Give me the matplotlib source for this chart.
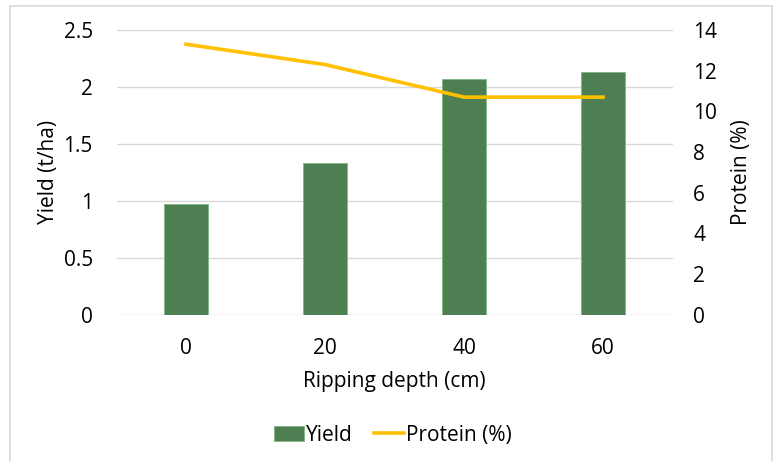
import matplotlib.pyplot as plt
from matplotlib.patches import Rectangle

depths = ["0", "20", "40", "60"]
yield_tha = [0.97, 1.33, 2.07, 2.13]
protein_pct = [13.3, 12.3, 10.7, 10.7]

plt.rcParams['font.family'] = ['Open Sans', 'DejaVu Sans']
plt.rcParams['font.size'] = 15

fig = plt.figure(figsize=(7.82, 4.61), dpi=100)
ax = fig.add_axes([0.149, 0.317, 0.711, 0.618])

# outer chart frame
fig.patches.append(Rectangle((10 / 782, -0.05), 762 / 782, 1 - 6 / 461 + 0.05,
                             transform=fig.transFigure, fill=False,
                             edgecolor="#d9d9d9", lw=1.2))

x = range(len(depths))
ax.bar(x, yield_tha, width=0.316, color="#4e7f52", edgecolor="#7fb87f",
       linewidth=0.6, label="Yield", zorder=2)
ax.set_ylim(0, 2.5)
ax.set_yticks([0, 0.5, 1, 1.5, 2, 2.5])
ax.set_yticklabels(["0", "0.5", "1", "1.5", "2", "2.5"])
ax.set_xlim(-0.5, 3.5)
ax.set_xticks(list(x))
ax.set_xticklabels(depths)
ax.grid(axis="y", color="#d9d9d9", lw=1, zorder=0)
ax.tick_params(length=0)
ax.tick_params(axis="y", pad=17)
ax.tick_params(axis="x", pad=17)
for s in ax.spines.values():
    s.set_visible(False)
ax.set_xlabel("Ripping depth (cm)", labelpad=8)
ax.set_ylabel("Yield (t/ha)", labelpad=3)

ax2 = ax.twinx()
ax2.plot(x, protein_pct, color="#ffc000", lw=2.6, label="Protein (%)", zorder=3)
ax2.set_ylim(0, 14)
ax2.set_yticks(range(0, 15, 2))
ax2.tick_params(length=0, pad=15)
for s in ax2.spines.values():
    s.set_visible(False)
ax2.set_ylabel("Protein (%)", labelpad=10)

h1, l1 = ax.get_legend_handles_labels()
h2, l2 = ax2.get_legend_handles_labels()
fig.legend(h1 + h2, l1 + l2, loc="center", bbox_to_anchor=(393 / 782, 1 - 435 / 461),
           ncol=2, frameon=False, handlelength=1.45, handletextpad=0.1,
           columnspacing=1.0)

fig.savefig("out.png", dpi=100)
